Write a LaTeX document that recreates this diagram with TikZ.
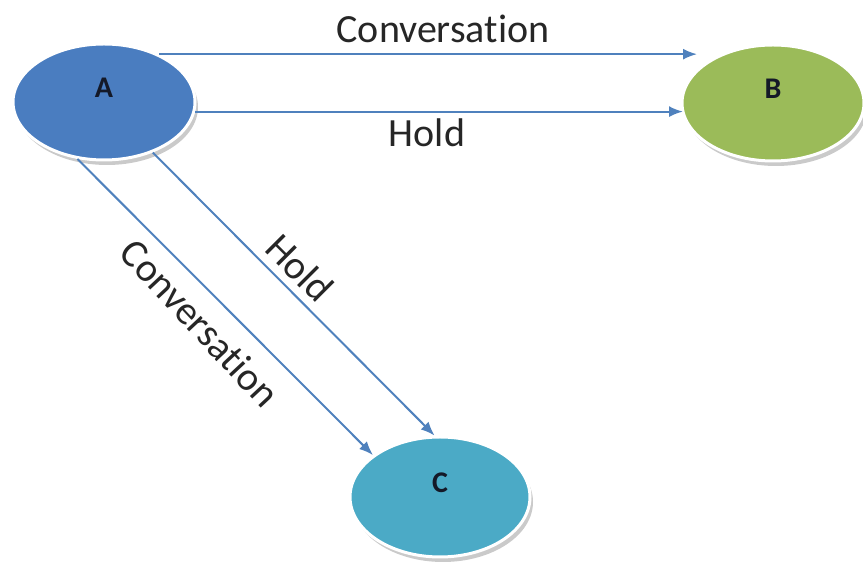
\documentclass[tikz,border=0pt]{standalone}
\usepackage{fontspec}
\setmainfont{Carlito}[Ligatures=NoCommon]
\usetikzlibrary{shapes.geometric,shadows,arrows.meta}
\definecolor{lineblue}{RGB}{79,129,189}
\definecolor{fillA}{RGB}{74,125,192}
\definecolor{fillB}{RGB}{155,187,89}
\definecolor{fillC}{RGB}{75,170,198}
\definecolor{txtdark}{RGB}{20,25,40}
\tikzset{
  ell/.style={ellipse, draw=white, line width=1.5pt, inner sep=0pt,
    minimum width=91pt, minimum height=58pt,
    drop shadow={shadow xshift=1.5pt, shadow yshift=-2.5pt, opacity=0.35, fill=black!60}},
  lettr/.style={font=\fontsize{15}{17}\selectfont\bfseries, text=txtdark, yshift=7pt, inner sep=0pt},
  conn/.style={draw=lineblue, line width=1pt, -{Latex[length=7pt,width=5.5pt]}},
  lab/.style={font=\fontsize{20}{24}\selectfont, text=black!85, inner sep=0pt}
}
\begin{document}
\begin{tikzpicture}[x=0.5pt,y=-0.5pt]
\useasboundingbox (0,0) rectangle (863,565);
\node[ell, fill=fillA, label={[lettr, name=Atx]center:A}] (A) at (104,102) {};
\node[ell, fill=fillB, label={[lettr, name=Btx]center:B}] (B) at (773,103) {};
\node[ell, fill=fillC, minimum width=90pt, minimum height=60pt, label={[lettr, name=Ctx]center:C}] (C) at (440,497) {};
\coordinate (b1) at (697,55);
\coordinate (b2) at (683,113);
\draw[conn] (A.41) -- (A.41 -| b1);
\draw[conn] (A.-6) -- (A.-6 -| b2);
\draw[conn] (A.245) -- (C.148);
\draw[conn] (A.-46) -- (C.95);
\node[lab, anchor=base] (l1) at (443,43) {Conversation};
\node[lab, anchor=base] (l2) at (427,147) {Hold};
\node[lab, rotate=-45] (l3) at (300,268) {Hold};
\node[lab, rotate=-47] (l4) at (200,323) {Conversation};
\end{tikzpicture}
\end{document}
